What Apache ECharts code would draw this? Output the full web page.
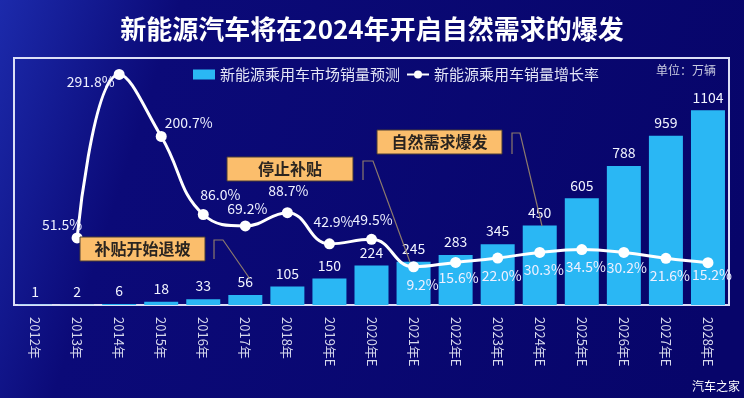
<!DOCTYPE html>
<html>
<head>
<meta charset="utf-8">
<script src="https://cdn.jsdelivr.net/npm/echarts@6/dist/echarts.min.js"></script>
<style>
  html, body { margin: 0; padding: 0; }
  #chart { width: 744px; height: 398px; }
</style>
</head>
<body>
<div id="chart"></div>
<script>
// data
const years = ['2012年', '2013年', '2014年', '2015年', '2016年', '2017年', '2018年', '2019年E', '2020年E',
  '2021年E', '2022年E', '2023年E', '2024年E', '2025年E', '2026年E', '2027年E', '2028年E'];
const sales = [1, 2, 6, 18, 33, 56, 105, 150, 224, 245, 283, 345, 450, 605, 788, 959, 1104];
const growth = [null, 51.5, 291.8, 200.7, 86.0, 69.2, 88.7, 42.9, 49.5, 9.2, 15.6, 22.0, 30.3, 34.5, 30.2, 21.6, 15.2];

const font = '"Noto Sans CJK SC", "Noto Sans", sans-serif';

// where each growth label sits relative to its point
const growthLabelPos = {
  1: { position: 'top', offset: [-15, 4] },
  2: { position: 'left', offset: [6, 7] },
  3: { position: 'right', offset: [-7, -14] },
  4: { position: 'top', offset: [17, -2] },
  5: { position: 'top', offset: [2, 0] },
  6: { position: 'top', offset: [1, -4] },
  7: { position: 'top', offset: [4, -5] },
  8: { position: 'top', offset: [1, -2] },
  9: { position: 'bottom', offset: [9, 0] },
  10: { position: 'bottom', offset: [3, -2] },
  14: { position: 'bottom', offset: [3, -2] },
  16: { position: 'bottom', offset: [4, -5] }
};

const growthData = growth.map((v, i) => {
  if (v === null) return '-';
  const item = { value: v };
  if (growthLabelPos[i]) item.label = growthLabelPos[i];
  return item;
});

// orange call-out boxes with their leader lines
const callout = (text, x, y, w, h, lead) => ([
  {
    type: 'rect', shape: { x: x, y: y, width: w, height: h },
    style: { fill: '#fbbe6c', stroke: '#4a3c36', lineWidth: 1 }, z: 20
  },
  {
    type: 'text', x: x + w / 2, y: y + h / 2,
    style: { text: text, fill: '#2a2420', font: 'bold 16px ' + font, align: 'center', verticalAlign: 'middle' }, z: 21
  },
  {
    type: 'polyline', shape: { points: lead },
    style: { stroke: '#8c7a6c', lineWidth: 1.2, fill: null }, z: 19
  }
]);

const chart = echarts.init(document.getElementById('chart'));

chart.setOption({
  backgroundColor: {
    type: 'linear', x: 0, y: 0, x2: 1, y2: 0.6,
    colorStops: [
      { offset: 0, color: '#1c2aab' },
      { offset: 0.22, color: '#0b0a78' },
      { offset: 1, color: '#07056a' }
    ]
  },
  animation: false,
  title: {
    text: '新能源汽车将在2024年开启自然需求的爆发',
    left: 'center', top: 11,
    textStyle: { color: '#ffffff', fontSize: 26, fontWeight: 'bold', fontFamily: font }
  },
  legend: {
    left: 188, top: 62,
    itemGap: 6,
    textStyle: { color: '#e4e6f6', fontSize: 15, fontFamily: font },
    data: [
      { name: '新能源乘用车市场销量预测', icon: 'rect', itemStyle: { color: '#2ab7f4' } },
      { name: '新能源乘用车销量增长率' }
    ],
    itemWidth: 22, itemHeight: 10
  },
  grid: {
    left: 14, right: 15, top: 58, bottom: 93,
    show: true, borderColor: '#dcdff6', borderWidth: 2,
    backgroundColor: 'transparent'
  },
  xAxis: {
    type: 'category',
    data: years,
    axisLine: { show: false },
    axisTick: { show: false },
    axisLabel: {
      rotate: -90, margin: 12, interval: 0,
      color: '#d6d8ec', fontSize: 13, fontFamily: font
    }
  },
  yAxis: [
    { type: 'value', min: 0, max: 1400, show: false, splitLine: { show: false } },
    { type: 'value', min: -47, max: 316, show: false, splitLine: { show: false } }
  ],
  series: [
    {
      name: '新能源乘用车市场销量预测',
      type: 'bar',
      data: sales,
      barWidth: 34,
      itemStyle: { color: '#2ab7f4' },
      label: {
        show: true, position: 'top', distance: 6,
        color: '#f2f4ff', fontSize: 14, fontFamily: font
      }
    },
    {
      name: '新能源乘用车销量增长率',
      type: 'line',
      yAxisIndex: 1,
      data: growthData,
      smooth: 0.45,
      symbol: 'circle',
      symbolSize: 11,
      lineStyle: { color: '#ffffff', width: 3 },
      itemStyle: { color: '#ffffff' },
      z: 5,
      label: {
        show: true, position: 'bottom', offset: [4, 0], distance: 5,
        color: '#eef0ff', fontSize: 14, fontFamily: font,
        formatter: p => p.value.toFixed(1) + '%'
      }
    }
  ],
  graphic: [
    {
      type: 'text', right: 28, top: 64,
      style: { text: '单位：万辆', fill: '#c9cbe0', font: '12px ' + font }
    },
    {
      type: 'text', right: 4, bottom: 6,
      style: { text: '汽车之家', fill: '#ffffff', font: '12px ' + font }
    },
    ...callout('补贴开始退坡', 80, 237, 125, 24, [[214, 259], [214, 240], [223, 240], [250, 279]]),
    ...callout('停止补贴', 227, 157, 126, 24, [[363, 180], [363, 161], [373, 161], [410, 262]]),
    ...callout('自然需求爆发', 377, 130, 125, 24, [[512, 154], [512, 133], [520, 133], [542, 226]])
  ]
});
</script>
</body>
</html>
